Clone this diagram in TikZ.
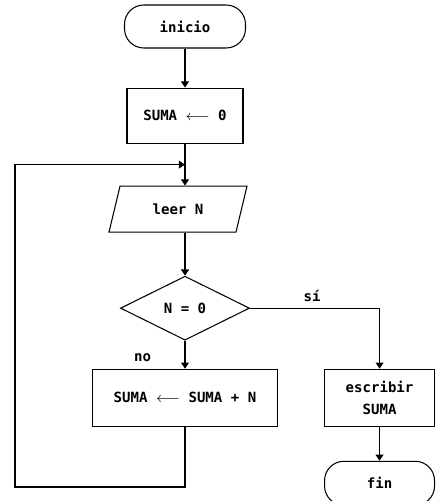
\documentclass[tikz,border=0pt]{standalone}
\usepackage{fontspec}
\setmonofont{DejaVu Sans Mono}
\usetikzlibrary{positioning,arrows.meta,shapes.geometric,calc}

\begin{document}
\begin{tikzpicture}[line width=0.6pt, >={Triangle[length=3.5pt,width=4.5pt]},
    txt/.style={font=\ttfamily\bfseries\fontsize{8}{12.5}\selectfont},
    caja/.style={draw, rectangle, txt, align=center, inner sep=2pt},
    terminal/.style={caja, rounded corners=11pt},
    lectura/.style={draw, trapezium, trapezium left angle=64, trapezium right angle=116,
      trapezium stretches body, txt, minimum width=2.76cm, minimum height=0.92cm},
    decision/.style={draw, diamond, aspect=2, txt, inner sep=0pt,
      minimum width=2.58cm, minimum height=1.28cm}]

  \useasboundingbox (0,0) rectangle (8.8,-10.02);

  % Columna principal (de arriba hacia abajo)
  \node[terminal, minimum width=2.42cm, minimum height=0.86cm] (inicio) at (3.70,-0.53) {inicio};
  \node[caja, minimum width=2.32cm, minimum height=1.1cm, below=0.78cm of inicio] (cero) {SUMA $\longleftarrow$ 0};
  \node[lectura, below=0.84cm of cero, xshift=-0.14cm] (leer) {leer N};
  \node[decision, below=0.86cm of leer, xshift=0.14cm] (dec) {N = 0};
  \node[caja, minimum width=3.7cm, minimum height=1.14cm, below=0.56cm of dec] (acum) {SUMA $\longleftarrow$ SUMA + N};

  % Rama del si
  \node[caja, minimum width=2.2cm, minimum height=1.14cm, right=0.92cm of acum] (escribir) {escribir\\SUMA};
  \node[terminal, minimum width=2.2cm, minimum height=0.88cm, below=0.68cm of escribir] (fin) {fin};

  % Puntos del lazo
  \coordinate (entrada) at ($(cero.south)!0.5!(cero.south |- leer.north)$);
  \coordinate (esquina) at (0.3,-9.74);

  % Conexiones
  \draw[->] (inicio) -- (cero);
  \draw[->] (cero.south) -- (cero.south |- leer.north);
  \draw[->] (cero.south |- leer.south) -- (dec.north);
  \draw[->] (dec.south) -- node[pos=0.6, left=0.55cm, txt] {no} (acum.north -| dec.south);
  \draw[->] (dec.east) -| node[pos=0.24, above, txt] {sí} (escribir.north);
  \draw[->] (escribir) -- (fin);

  % Lazo de vuelta a la lectura
  \draw[->] (acum.south) |- (esquina) |- (entrada);

\end{tikzpicture}
\end{document}
